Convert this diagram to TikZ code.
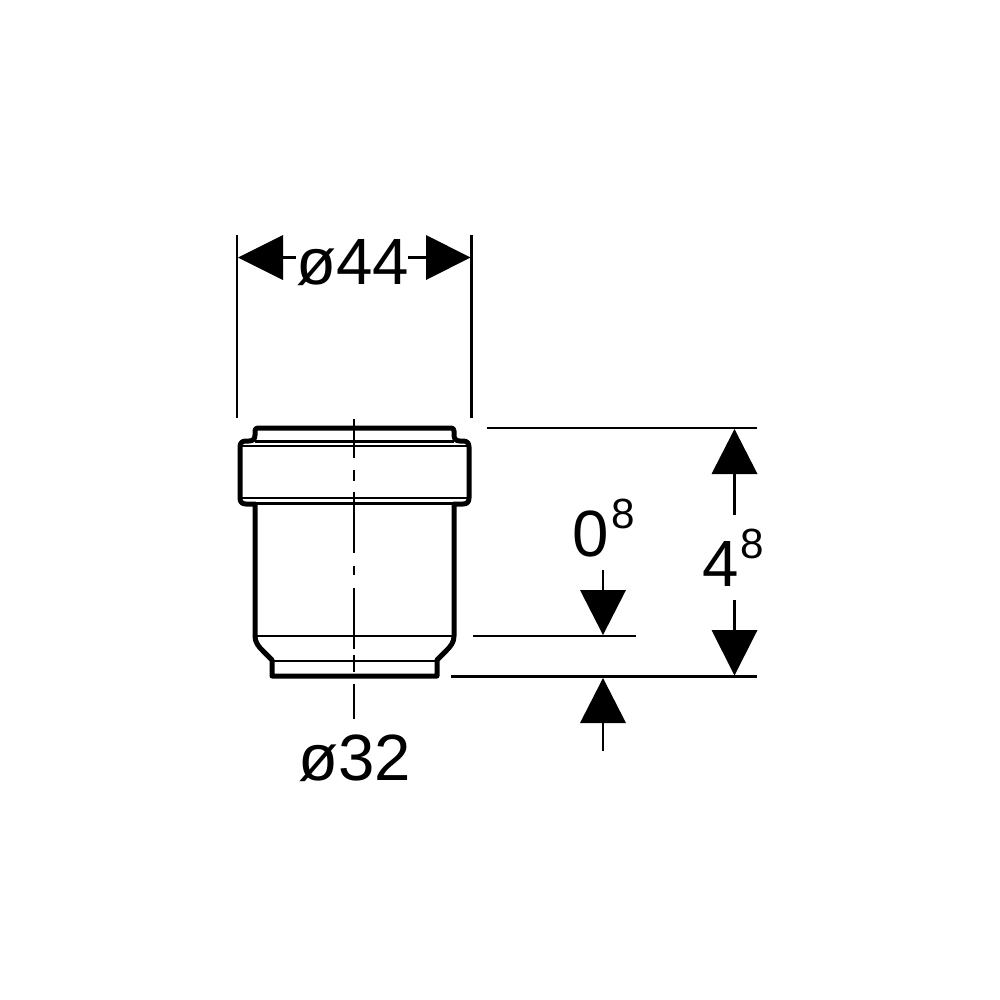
\documentclass[tikz,border=0pt]{standalone}
\usepackage{fontspec}
\setmainfont{Liberation Sans}
\begin{document}
\begin{tikzpicture}[x=0.01cm,y=-0.01cm,
  outline/.style={line width=0.5mm,line join=round,line cap=round},
  thinline/.style={line width=0.24mm},
  dimline/.style={line width=0.25mm},
  tip/.style={fill=black,draw=none},
  big/.style={inner sep=0pt,font=\fontsize{18.6pt}{21pt}\selectfont},
  small/.style={inner sep=0pt,font=\fontsize{12pt}{14pt}\selectfont}]
\useasboundingbox (0,0) rectangle (1000,1000);
% body
\draw[thinline] (255,441.5) -- (454,441.5);
\draw[thinline] (241,446) -- (468,446);
\draw[thinline] (241,498) -- (468,498);
\draw[thinline] (255,503.5) -- (454,503.5);
\draw[thinline] (255,636) -- (454,636);
\draw[thinline] (272,661) -- (437,661);
\draw[outline] (272,676) -- (272,660) -- (263,651) .. controls (258,646) and (255,642) .. (255,636)
  -- (255,504) -- (246,504) .. controls (242,504) and (240,502) .. (240,498)
  -- (240,447) .. controls (240,443) and (242,441) .. (246,441) -- (249,441)
  .. controls (253,441) and (255,439) .. (255,435) -- (255,431) .. controls (255,429) and (256,428) .. (258,428)
  -- (451,428) .. controls (453,428) and (454,429) .. (454,431) -- (454,435)
  .. controls (454,439) and (456,441) .. (460,441) -- (463,441)
  .. controls (467,441) and (469,443) .. (469,447) -- (469,498)
  .. controls (469,502) and (467,504) .. (463,504) -- (454,504) -- (454,636)
  .. controls (454,642) and (451,646) .. (446,651) -- (437,660) -- (437,676) -- cycle;
% centre line
\foreach \a/\b in {419/458,470/481,492/553,566/575,588/649,655/672,684/719}
  \draw[dimline] (354,\a) -- (354,\b);
% witness lines
\coordinate (wl) at (237,235); \coordinate (wlb) at (237,418);
\coordinate (wr) at (471.5,235); \coordinate (wrb) at (471.5,418);
\draw[dimline] (wl) -- (wlb);
\draw[dimline] (wr) -- (wrb);
\coordinate (top) at (487,428); \coordinate (topr) at (757,428);
\coordinate (mid) at (473,636); \coordinate (midr) at (636,636);
\coordinate (bot) at (451,676.5); \coordinate (botr) at (757,676.5);
\draw[dimline] (top) -- (topr);
\draw[dimline] (mid) -- (midr);
\draw[dimline] (bot) -- (botr);
% arrows
\fill[tip] (238,257.5) -- (283,235) -- (283,280) -- cycle;
\fill[tip] (470.5,257.5) -- (426,235) -- (426,280) -- cycle;
\draw[dimline] (283,257.5) -- (296,257.5);
\draw[dimline] (408,257.5) -- (426,257.5);
\fill[tip] (734.5,429) -- (711.5,474) -- (757.5,474) -- cycle;
\draw[dimline] (734.5,474) -- (734.5,515);
\fill[tip] (734.5,675.5) -- (711.5,630) -- (757.5,630) -- cycle;
\draw[dimline] (734.5,600) -- (734.5,630);
\fill[tip] (603,635) -- (580,590) -- (626,590) -- cycle;
\draw[dimline] (603,570) -- (603,590);
\fill[tip] (603,678) -- (580,723) -- (626,723) -- cycle;
\draw[dimline] (603,723) -- (603,751);
% labels
\node[big,anchor=base] (d44) at (353,284) {ø44};
\node[big,anchor=base] (d32) at (354.5,780) {ø32};
\node[big,anchor=base west] (z) at (572,556) {0};
\node[small,anchor=base west] (zs) at (611,528) {8};
\node[big,anchor=base west] (f) at (701.5,586) {4};
\node[small,anchor=base west] (fs) at (740,558) {8};
\end{tikzpicture}
\end{document}
